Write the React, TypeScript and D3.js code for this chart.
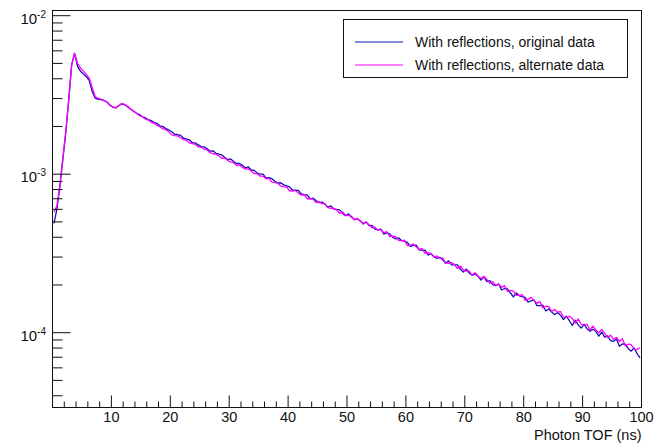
import React from "react";
import * as d3 from "d3";

// Histogram contents, in units of 1e-5, bins of 0.5 ns starting at 0–0.5 ns
const VALUE_UNIT = 1e-5;
const BIN_WIDTH = 0.5;
const X_MIN = 0;
const X_MAX = 100;

const originalData = [
  49.0, 60.3, 83.2, 123.0, 182.0, 291.0, 489.8, 579.4, 478.6, 446.7,
  428.5, 412.1, 389.0, 331.1, 302.0, 296.5, 295.1, 291.7, 285.1, 272.3,
  264.2, 261.8, 270.4, 278.0, 274.2, 266.1, 257.0, 249.5, 242.1, 237.5,
  230.4, 227.1, 220.6, 218.0, 211.5, 208.9, 201.8, 199.6, 193.8, 190.2,
  185.4, 178.7, 177.5, 175.8, 168.7, 166.3, 164.8, 157.8, 157.5, 153.2,
  149.2, 148.7, 144.8, 140.0, 140.4, 135.5, 133.8, 132.3, 127.3, 123.7,
  124.8, 120.1, 116.8, 116.8, 113.7, 109.5, 111.1, 106.3, 105.7, 101.6,
  100.0, 100.2, 94.9, 95.1, 93.7, 90.2, 87.9, 88.3, 85.6, 84.4,
  83.1, 79.2, 79.4, 79.1, 75.0, 74.2, 74.0, 69.8, 70.5, 68.3,
  66.2, 66.7, 64.8, 62.0, 63.1, 60.3, 59.9, 59.6, 56.6, 54.7,
  56.2, 53.6, 51.8, 52.3, 50.9, 48.5, 50.0, 47.3, 47.5, 45.1,
  44.5, 45.1, 41.9, 42.6, 42.0, 40.1, 39.0, 39.7, 38.2, 37.8,
  37.2, 35.1, 35.5, 35.7, 33.3, 33.1, 33.2, 30.9, 31.5, 30.4,
  29.4, 29.9, 28.9, 27.4, 28.4, 26.8, 26.8, 26.8, 25.1, 24.1,
  25.2, 23.8, 23.0, 23.5, 22.7, 21.5, 22.5, 21.0, 21.3, 20.1,
  19.8, 20.3, 18.6, 19.0, 18.9, 17.8, 16.8, 17.8, 17.1, 16.9,
  16.7, 15.6, 15.9, 16.1, 14.8, 14.8, 14.9, 13.7, 14.1, 13.5,
  13.0, 13.4, 12.9, 12.1, 12.7, 11.9, 11.1, 12.0, 11.2, 10.7,
  11.3, 10.6, 10.2, 10.5, 10.2, 9.50, 10.1, 9.37, 9.55, 8.90,
  8.82, 9.12, 8.20, 8.50, 8.46, 7.93, 7.65, 8.00, 7.38, 6.94,
];

const alternateData = [
  57.5, 63.1, 85.1, 125.9, 186.2, 295.1, 489.8, 575.4, 501.2, 467.7,
  446.7, 426.6, 402.7, 350.8, 309.0, 300.6, 297.2, 291.7, 285.1, 273.5,
  265.5, 263.0, 271.0, 279.3, 276.1, 267.9, 258.2, 250.6, 243.2, 234.1,
  230.5, 222.6, 219.8, 212.4, 209.9, 203.0, 199.5, 193.1, 190.9, 185.0,
  177.0, 175.0, 174.6, 169.7, 165.0, 164.1, 157.3, 156.2, 154.0, 148.5,
  147.5, 143.9, 142.3, 136.7, 134.6, 133.7, 130.5, 125.7, 126.4, 121.9,
  119.5, 118.3, 113.2, 114.4, 110.4, 107.4, 108.3, 104.6, 100.7, 100.8,
  97.1, 97.1, 93.6, 94.0, 89.0, 88.8, 87.6, 84.1, 83.1, 82.9,
  78.6, 78.2, 79.0, 76.2, 73.8, 74.2, 70.0, 70.2, 69.5, 66.2,
  67.0, 65.2, 64.9, 61.6, 60.8, 60.9, 59.3, 56.5, 57.8, 55.1,
  54.7, 54.4, 51.4, 52.6, 50.5, 49.0, 50.0, 48.0, 45.8, 46.3,
  44.2, 44.7, 42.7, 43.4, 40.4, 40.7, 40.3, 38.3, 38.0, 38.3,
  35.4, 35.5, 36.3, 34.8, 33.5, 34.0, 31.6, 32.0, 31.7, 30.0,
  30.5, 29.5, 29.6, 27.6, 27.4, 27.7, 26.9, 25.4, 26.3, 24.9,
  24.5, 24.5, 23.0, 23.9, 22.7, 22.0, 22.7, 21.7, 20.5, 21.0,
  19.9, 20.3, 19.3, 19.8, 18.2, 18.5, 18.3, 17.2, 17.2, 17.4,
  16.0, 16.2, 16.7, 16.0, 15.3, 15.7, 14.3, 14.7, 14.6, 13.6,
  14.0, 13.5, 13.6, 12.6, 12.5, 12.7, 12.3, 11.5, 12.2, 11.3,
  11.2, 11.3, 10.4, 11.0, 10.4, 9.99, 10.5, 9.94, 9.31, 9.64,
  9.08, 9.35, 8.80, 9.15, 8.24, 8.46, 8.41, 7.84, 7.84, 8.03,
];

const seriesNames = ["With reflections, original data", "With reflections, alternate data"];
const seriesColors = ["#1212b4", "#ff00ff"];
const xMajorTicks = [10, 20, 30, 40, 50, 60, 70, 80, 90, 100];
const xMinorStep = 2;
const yDecades = [-2, -3, -4];
const xTitle = "Photon TOF (ns)";

export default function App() {
  const W = 654;
  const H = 444;
  const left = 52.5, right = 641.5, top = 10.5, bottom = 407.5;
  const x = d3.scaleLinear().domain([X_MIN, X_MAX]).range([left, right]);
  const y = d3.scaleLog().domain([3.373e-5, 1.0784e-2]).range([bottom, top]);
  const [yLo, yHi] = y.domain();

  const line = d3
    .line<number>()
    .x((_, i) => x(X_MIN + (i + 0.5) * BIN_WIDTH))
    .y((d) => y(d * VALUE_UNIT));

  const xMinor: number[] = [];
  for (let v = X_MIN + xMinorStep; v < X_MAX; v += xMinorStep) {
    if (!xMajorTicks.includes(v)) xMinor.push(v);
  }
  const yMinor: number[] = [];
  for (let e = -5; e <= -2; e++) {
    for (let k = 2; k <= 9; k++) {
      const v = k * Math.pow(10, e);
      if (v > yLo && v < yHi) yMinor.push(v);
    }
  }

  const font = "'Liberation Sans', Arial, Helvetica, sans-serif";
  const series = [originalData, alternateData];

  return (
    <svg
      width={W}
      height={H}
      style={{ position: "absolute", left: 0, top: 0, background: "#fff" }}
      fontFamily={font}
    >
      <rect x={0} y={0} width={W} height={H} fill="#fff" />
      <defs>
        <clipPath id="plotClip">
          <rect x={left} y={top} width={right - left} height={bottom - top} />
        </clipPath>
      </defs>
      <g clipPath="url(#plotClip)">
        {series.map((s, i) => (
          <path
            key={i}
            d={line(s) || ""}
            fill="none"
            stroke={seriesColors[i]}
            strokeWidth={1.3}
            strokeLinejoin="round"
          />
        ))}
      </g>
      {/* frame */}
      <rect x={left} y={top} width={right - left} height={bottom - top} fill="none" stroke="#111" strokeWidth={1} />
      {/* x ticks */}
      {xMajorTicks.map((t) => (
        <g key={"xM" + t}>
          <line x1={x(t)} x2={x(t)} y1={bottom} y2={bottom - 12} stroke="#111" />
          <text x={x(t)} y={422} fontSize={14.5} textAnchor="middle" fill="#111">
            {t}
          </text>
        </g>
      ))}
      {xMinor.map((t) => (
        <line key={"xm" + t} x1={x(t)} x2={x(t)} y1={bottom} y2={bottom - 6} stroke="#111" />
      ))}
      <text x={right} y={440} fontSize={14.5} textAnchor="end" fill="#111">
        {xTitle}
      </text>
      {/* y ticks */}
      {yDecades.map((e) => {
        const yy = y(Math.pow(10, e));
        return (
          <g key={"yM" + e}>
            <line x1={left} x2={left + 18} y1={yy} y2={yy} stroke="#111" />
            <text x={46} y={yy + 8} fontSize={15} textAnchor="end" fill="#111">
              <tspan>10</tspan>
              <tspan dy={-6} fontSize={10}>{"-" + Math.abs(e)}</tspan>
            </text>
          </g>
        );
      })}
      {yMinor.map((v, i) => (
        <line key={"ym" + i} x1={left} x2={left + 10} y1={y(v)} y2={y(v)} stroke="#111" />
      ))}
      {/* legend */}
      <rect x={343.5} y={19.5} width={284} height={58} fill="#fff" stroke="#111" strokeWidth={1} />
      {seriesNames.map((n, i) => {
        const ly = 42 + i * 23;
        return (
          <g key={n}>
            <line x1={355} x2={403} y1={ly} y2={ly} stroke={seriesColors[i]} strokeWidth={1} />
            <text x={415} y={ly + 5} fontSize={14} fill="#111">
              {n}
            </text>
          </g>
        );
      })}
    </svg>
  );
}
